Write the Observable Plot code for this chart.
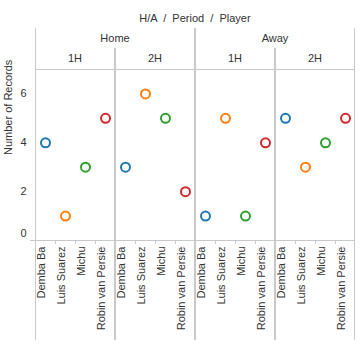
<!DOCTYPE html>
<html>
<head>
<meta charset="utf-8">
<script src="https://cdn.jsdelivr.net/npm/d3@7"></script>
<script src="https://cdn.jsdelivr.net/npm/@observablehq/plot@0.6"></script>
<style>
  html, body { margin: 0; padding: 0; background: #fff; }
  svg text { white-space: pre; }
</style>
</head>
<body>
<div id="chart"></div>
<script>
const players = ["Demba Ba", "Luis Suarez", "Michu", "Robin van Persie"];
const venues = ["Home", "Away"];
const periods = ["1H", "2H"];
const homeFirstHalf = [4, 1, 3, 5];
const homeSecondHalf = [3, 6, 5, 2];
const awayFirstHalf = [1, 5, 1, 4];
const awaySecondHalf = [5, 3, 4, 5];
const yTicks = [0, 2, 4, 6];
const playerColors = ["#1f77b4", "#ff7f0e", "#2ca02c", "#d62728"];
const titleText = "H/A  /  Period  /  Player";
const yLabel = "Number of Records";

const series = {
  "Home|1H": homeFirstHalf,
  "Home|2H": homeSecondHalf,
  "Away|1H": awayFirstHalf,
  "Away|2H": awaySecondHalf
};

const rows = [];
for (const v of venues) for (const p of periods) players.forEach((pl, i) => {
  rows.push({venue: v, period: p, player: pl, value: series[`${v}|${p}`][i], key: `${v}|${p}|${pl}`});
});
const keys = rows.map(d => d.key);

const lineColor = "#c8c8c8";
const textColor = "#333";

function headers(index, scales, values, dimensions) {
  const {x} = scales;
  const bw = x.bandwidth();
  const {marginTop, height, marginBottom} = dimensions;
  const top = marginTop, bottom = height - marginBottom;
  const g = d3.create("svg:g")
    .attr("fill", "none").attr("stroke", lineColor).attr("stroke-width", 1);
  const t = d3.create("svg:g")
    .attr("fill", textColor).attr("text-anchor", "middle")
    .attr("font-size", 11);
  const left = x(keys[0]), right = x(keys[keys.length - 1]) + bw;
  t.append("text").attr("x", (left + right) / 2).attr("y", 18).attr("dy", "0.35em").text(titleText);
  const vline = (xx, y1, y2) => g.append("line").attr("x1", xx).attr("x2", xx).attr("y1", y1).attr("y2", y2);
  for (const v of venues) {
    const vk = keys.filter(k => k.startsWith(v + "|"));
    const x0 = x(vk[0]), x1 = x(vk[vk.length - 1]) + bw;
    vline(Math.round(x0) + 0.5, 28, top);
    vline(Math.round(x1) - 0.5, 28, top);
    t.append("text").attr("x", (x0 + x1) / 2).attr("y", 38.5).attr("dy", "0.35em").text(v);
    for (const p of periods) {
      const pk = vk.filter(k => k.startsWith(`${v}|${p}|`));
      const a = x(pk[0]), b = x(pk[pk.length - 1]) + bw;
      vline(Math.round(a) + 0.5, 48, bottom + 100);
      vline(Math.round(b) - 0.5, 48, bottom + 100);
      t.append("text").attr("x", (a + b) / 2).attr("y", 58.5).attr("dy", "0.35em").text(p);
      pk.slice(1).forEach(k => vline(Math.round(x(k)) + 0.5, bottom, bottom + 4));
    }
  }
  g.append("line").attr("x1", left).attr("x2", right).attr("y1", top + 0.5).attr("y2", top + 0.5);
  g.append("line").attr("x1", left - 5).attr("x2", right).attr("y1", bottom + 0.5).attr("y2", bottom + 0.5);
  const root = d3.create("svg:g");
  root.append(() => g.node());
  root.append(() => t.node());
  return root.node();
}

const chart = Plot.plot({
  width: 363,
  height: 349,
  marginLeft: 35,
  marginRight: 8,
  marginTop: 69,
  marginBottom: 109,
  style: {fontFamily: "'Liberation Sans', Arial, sans-serif", fontSize: "11px", color: textColor, background: "#fff", overflow: "visible"},
  x: {type: "band", domain: keys, padding: 0, axis: null},
  y: {domain: [0, 7], axis: null},
  color: {domain: players, range: playerColors},
  marks: [
    headers,
    Plot.axisY(yTicks.filter(d => d !== 0), {tickSize: 0, tickPadding: 9, label: null, fill: textColor}),
    Plot.axisY(yTicks.filter(d => d === 0), {tickSize: 0, tickPadding: 9, label: null, dy: -7, fill: textColor}),
    Plot.text([yLabel], {frameAnchor: "left", rotate: -90, dx: -27, fill: textColor, fontSize: 11}),
    Plot.dot(rows, {x: "key", y: "value", stroke: "player", r: 4.5, strokeWidth: 2, fill: "none"}),
    Plot.text(rows, {x: "key", text: "player", frameAnchor: "bottom", rotate: -90, textAnchor: "end", dy: 6, dx: -1, fill: textColor, fontSize: 11})
  ]
});
document.getElementById("chart").appendChild(chart);
</script>
</body>
</html>
